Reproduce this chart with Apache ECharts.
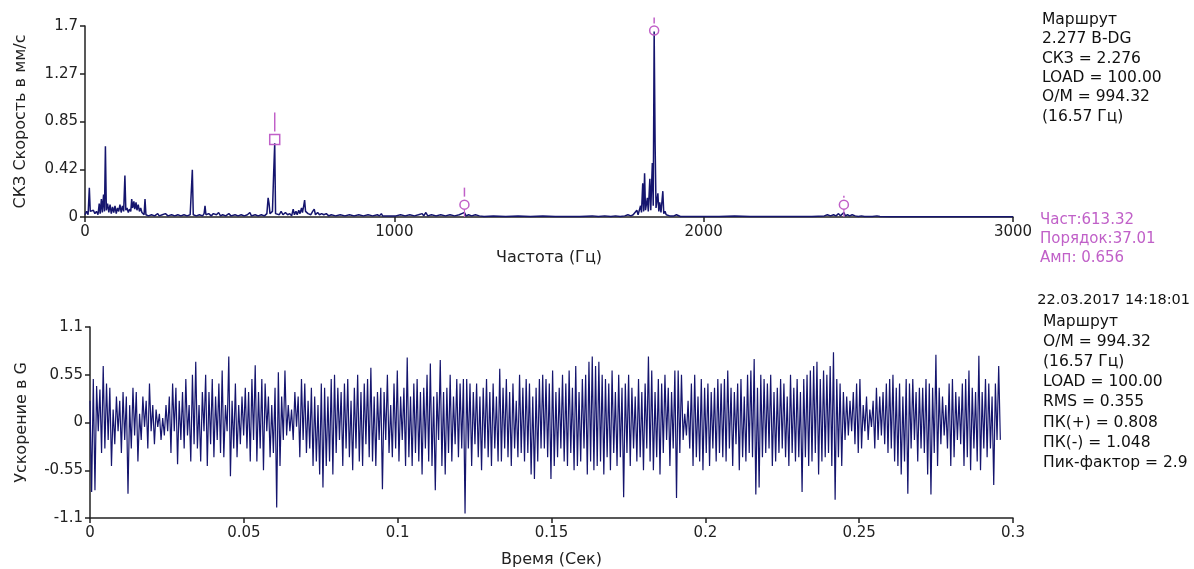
<!DOCTYPE html>
<html>
<head>
<meta charset="utf-8">
<script src="https://cdn.jsdelivr.net/npm/echarts@6/dist/echarts.min.js"></script>
<style>
html,body{margin:0;padding:0;background:#fff;}
#chart{width:1194px;height:569px;}
</style>
</head>
<body>
<div id="chart"></div>
<script>
// ---------- DATA ----------
// Spectrum (frequency Hz, RMS velocity mm/s)
const spectrumLow = [
[0,0.02],[5,0.05],[10,0.02],[14,0.26],[17,0.05],[22,0.04],[27,0.06],[32,0.03],[37,0.05],[42,0.02],[46,0.12],[49,0.03],[53,0.16],[56,0.04],[60,0.2],[63,0.05],[66,0.63],[69,0.06],[73,0.12],[77,0.04],[81,0.11],[85,0.03],[89,0.09],[93,0.04],[97,0.1],[101,0.03],[105,0.08],[109,0.05],[113,0.11],[117,0.04],[121,0.1],[125,0.05],[129,0.37],[132,0.06],[136,0.08],[140,0.04],[144,0.07],[148,0.05],[151,0.16],[154,0.08],[158,0.14],[161,0.07],[165,0.13],[168,0.06],[172,0.11],[176,0.05],[180,0.08],[184,0.04],[188,0.05],[191,0.02],[194,0.16],[197,0.02],[205,0.01],[215,0.02],[225,0.01],[235,0.03],[240,0.01],[250,0.02],[260,0.03],[268,0.01],[280,0.02],[290,0.01],[300,0.02],[310,0.01],[320,0.02],[330,0.01],[340,0.02],[344,0.03],[347,0.42],[350,0.02],[360,0.01],[370,0.02],[380,0.01],[385,0.03],[388,0.1],[391,0.02],[400,0.03],[408,0.01],[415,0.03],[425,0.02],[432,0.04],[438,0.01],[445,0.02],[455,0.01],[465,0.03],[472,0.01],[485,0.02],[495,0.01],[505,0.02],[515,0.01],[525,0.02],[533,0.04],[538,0.01],[550,0.02],[560,0.01],[570,0.02],[580,0.01],[588,0.03],[592,0.17],[595,0.12],[598,0.03],[606,0.05],[610,0.4],[613.32,0.656],[616,0.03],[622,0.04],[628,0.02],[634,0.05],[640,0.02],[648,0.04],[655,0.02],[662,0.03],[668,0.01],[673,0.07],[677,0.02],[682,0.05],[686,0.02],[691,0.06],[695,0.03],[700,0.08],[703,0.04],[707,0.1],[710,0.15],[713,0.05],[717,0.06],[721,0.03],[726,0.04],[730,0.02],[736,0.05],[741,0.07],[745,0.02],[752,0.04],[758,0.02],[765,0.03],[772,0.02],[780,0.03],[788,0.01],[796,0.02],[810,0.01],[825,0.02],[840,0.01],[855,0.02],[870,0.01],[885,0.02],[900,0.01],[915,0.02],[930,0.01],[945,0.02],[952,0.01],[958,0.03],[962,0.01],[975,0.01],[990,0.01]
];
const spectrumMid = [
[1005,0.01],[1020,0.02],[1035,0.01],[1050,0.02],[1065,0.01],[1078,0.02],[1090,0.03],[1095,0.01],[1102,0.04],[1108,0.01],[1120,0.02],[1135,0.01],[1150,0.02],[1165,0.01],[1180,0.02],[1195,0.01],[1210,0.02],[1218,0.03],[1226.64,0.04],[1232,0.01],[1240,0.02],[1250,0.01],[1262,0.02],[1275,0.01],[1290,0.005],[1320,0.01],[1360,0.005],[1400,0.01],[1440,0.005],[1480,0.01],[1520,0.005],[1560,0.005],[1600,0.005],[1640,0.01],[1660,0.005],[1680,0.01],[1700,0.005],[1715,0.01],[1730,0.005],[1745,0.01],[1755,0.02],[1765,0.01],[1772,0.02],[1778,0.03],[1784,0.06],[1788,0.02],[1792,0.03],[1796,0.1],[1799,0.04],[1803,0.3],[1806,0.05],[1809,0.39],[1812,0.06],[1818,0.17],[1821,0.05],[1826,0.34],[1829,0.06],[1834,0.48],[1837,0.1],[1839.96,1.65],[1843,0.66],[1846,0.08],[1852,0.21],[1855,0.05],[1858,0.13],[1862,0.04],[1868,0.23],[1871,0.03],[1875,0.05],[1879,0.02],[1884,0.03],[1890,0.01],[1896,0.02],[1904,0.01],[1912,0.02],[1925,0.005],[1950,0.005],[1980,0.005]
];
const spectrumHigh = [
[2000,0.005],[2050,0.005],[2100,0.01],[2150,0.005],[2200,0.005],[2250,0.005],[2300,0.005],[2350,0.005],[2390,0.01],[2400,0.02],[2410,0.01],[2420,0.02],[2428,0.01],[2436,0.03],[2442,0.01],[2448,0.02],[2453.28,0.04],[2458,0.01],[2465,0.02],[2472,0.01],[2480,0.02],[2490,0.01],[2500,0.005],[2510,0.01],[2520,0.005],[2545,0.005],[2560,0.01],[2570,0.005],[2600,0.003],[2700,0.003],[2800,0.003],[2900,0.003],[3000,0.003]
];
// Harmonic cursor markers (frequency, marker level)
const harmonicFreqs = [613.32, 1226.64, 1839.96, 2453.28];
const markerLevels = [0.69, 0.11, 1.66, 0.11];

// Time waveform: acceleration G, one value per sample
const sampleStep = 0.000537; // seconds between samples
const accel = [
0.25,-0.8,0.5,-0.78,0.42,-0.1,0.38,-0.35,0.65,-0.3,0.45,-0.2,0.4,-0.5,0.15,-0.25,0.3,-0.1,0.25,-0.35,0.35,-0.2,0.3,-0.82,
0.2,-0.3,0.4,-0.15,0.35,-0.45,0.1,-0.2,0.3,-0.05,0.25,-0.3,0.45,-0.1,0.2,-0.25,0.15,-0.05,0.1,-0.2,0.05,-0.15,0.2,-0.1,
0.3,-0.35,0.45,-0.1,0.4,-0.48,0.25,-0.2,0.35,-0.3,0.5,-0.15,0.2,-0.45,0.55,-0.25,0.7,-0.3,0.2,-0.45,0.35,-0.1,0.55,-0.5,
0.35,-0.25,0.5,-0.4,0.3,-0.2,0.45,-0.35,0.6,-0.4,0.2,-0.1,0.76,-0.62,0.25,-0.3,0.45,-0.4,0.2,-0.25,0.3,-0.15,0.4,-0.3,
0.35,-0.45,0.5,-0.2,0.66,-0.45,0.35,-0.3,0.5,-0.55,0.45,-0.1,0.3,-0.4,0.2,-0.35,0.4,-0.98,0.58,-0.5,0.3,-0.2,0.6,-0.15,
0.2,-0.1,0.15,-0.2,0.35,-0.05,0.3,-0.4,0.5,-0.2,0.45,-0.35,0.25,-0.3,0.4,-0.5,0.3,-0.45,0.2,-0.6,0.45,-0.75,0.4,-0.5,
0.3,-0.45,0.5,-0.6,0.55,-0.35,0.4,-0.2,0.35,-0.5,0.45,-0.3,0.5,-0.4,0.25,-0.55,0.4,-0.3,0.55,-0.45,0.35,-0.5,0.45,-0.25,
0.5,-0.4,0.63,-0.45,0.3,-0.5,0.35,-0.2,0.4,-0.77,0.35,-0.2,0.55,-0.35,0.2,-0.4,0.45,-0.3,0.6,-0.45,0.3,-0.2,0.4,-0.5,
0.75,-0.4,0.3,-0.5,0.45,-0.35,0.5,-0.45,0.35,-0.6,0.4,-0.3,0.55,-0.45,0.68,-0.5,0.3,-0.78,0.35,-0.2,0.72,-0.5,0.35,-0.6,
0.4,-0.35,0.55,-0.45,0.3,-0.25,0.5,-0.4,0.45,-0.3,0.5,-1.048,0.5,-0.3,0.45,-0.5,0.35,-0.25,0.45,-0.4,0.3,-0.55,0.4,-0.3,
0.5,-0.4,0.35,-0.5,0.45,-0.3,0.3,-0.45,0.62,-0.45,0.4,-0.3,0.5,-0.4,0.35,-0.5,0.45,-0.3,0.25,-0.4,0.55,-0.35,0.4,-0.45,
0.5,-0.35,0.45,-0.6,0.3,-0.65,0.4,-0.45,0.5,-0.3,0.55,-0.3,0.5,-0.4,0.45,-0.65,0.6,-0.5,0.35,-0.4,0.4,-0.3,0.55,-0.45,
0.45,-0.5,0.6,-0.35,0.4,-0.55,0.65,-0.5,0.35,-0.45,0.5,-0.3,0.55,-0.6,0.7,-0.45,0.76,-0.55,0.65,-0.5,0.7,-0.45,0.55,-0.6,
0.5,-0.4,0.45,-0.55,0.6,-0.35,0.35,-0.5,0.55,-0.4,0.4,-0.86,0.45,-0.35,0.55,-0.5,0.4,-0.3,0.3,-0.45,0.5,-0.4,0.35,-0.55,
0.45,-0.3,0.76,-0.45,0.6,-0.55,0.35,-0.4,0.5,-0.6,0.45,-0.35,0.55,-0.2,0.4,-0.5,0.35,-0.3,0.6,-0.87,0.6,-0.35,0.55,-0.2,
0.1,-0.15,0.25,-0.3,0.45,-0.5,0.55,-0.4,0.3,-0.45,0.5,-0.55,0.4,-0.35,0.45,-0.5,0.35,-0.3,0.4,-0.45,0.5,-0.35,0.45,-0.4,
0.5,-0.45,0.6,-0.3,0.4,-0.5,0.35,-0.25,0.45,-0.55,0.5,-0.4,0.3,-0.45,0.55,-0.35,0.6,-0.4,0.73,-0.83,0.4,-0.75,0.55,-0.4,
0.5,-0.35,0.45,-0.3,0.55,-0.5,0.35,-0.45,0.4,-0.35,0.5,-0.3,0.45,-0.4,0.3,-0.5,0.55,-0.35,0.4,-0.45,0.5,-0.4,0.35,-0.8,
0.5,-0.4,0.55,-0.5,0.6,-0.45,0.65,-0.35,0.7,-0.6,0.5,-0.45,0.6,-0.4,0.55,-0.35,0.65,-0.5,0.808,-0.89,0.5,-0.4,0.45,-0.5,
0.35,-0.2,0.3,-0.15,0.25,-0.1,0.35,-0.25,0.45,-0.35,0.5,-0.3,0.2,-0.1,0.3,-0.2,0.15,-0.05,0.25,-0.3,0.4,-0.2,0.3,-0.15,
0.35,-0.25,0.45,-0.35,0.5,-0.3,0.55,-0.45,0.4,-0.5,0.45,-0.6,0.3,-0.45,0.5,-0.82,0.45,-0.3,0.5,-0.2,0.35,-0.45,0.4,-0.3,
0.4,-0.35,0.5,-0.6,0.45,-0.83,0.4,-0.35,0.78,-0.5,0.4,-0.25,0.3,-0.15,0.2,-0.3,0.45,-0.5,0.5,-0.4,0.35,-0.2,0.3,-0.25,
0.45,-0.5,0.5,-0.4,0.6,-0.55,0.4,-0.3,0.35,-0.45,0.77,-0.55,0.35,-0.3,0.5,-0.4,0.45,-0.3,0.3,-0.72,0.45,-0.2,0.65,-0.2
];

// Tick labels
const specYLabels = ['0','0.42','0.85','1.27','1.7'];
const specXLabels = ['0','1000','2000','3000'];
const accelYLabels = ['-1.1','-0.55','0','0.55','1.1'];
const timeXLabels = ['0','0.05','0.1','0.15','0.2','0.25','0.3'];

// Info texts
const infoTop = ['Маршрут','2.277 B-DG','СКЗ = 2.276','LOAD = 100.00','O/M = 994.32','(16.57 Гц)'];
const cursorInfo = ['Част:613.32','Порядок:37.01','Амп: 0.656'];
const dateStamp = '22.03.2017 14:18:01';
const infoBottom = ['Маршрут','O/M = 994.32','(16.57 Гц)','LOAD = 100.00','RMS = 0.355','ПК(+) = 0.808','ПК(-) = 1.048','Пик-фактор = 2.9'];

// ---------- CHART ----------
const FONT = 'DejaVu Sans';
const AXIS_COLOR = '#222';
const LINE_COLOR = '#15156e';
const MARK_COLOR = '#c060c8';

const spectrum = spectrumLow.concat(spectrumMid, spectrumHigh);
const waveform = accel.map((v, i) => [i * sampleStep, v]);

function axisCommon() {
  return {
    axisLine: {show: true, onZero: false, lineStyle: {color: AXIS_COLOR, width: 1.5}},
    axisTick: {show: true, length: 5, lineStyle: {color: AXIS_COLOR, width: 1.5}},
    splitLine: {show: false},
    axisLabel: {color: '#222', fontFamily: FONT, fontSize: 15},
    nameTextStyle: {color: '#222', fontFamily: FONT, fontSize: 16}
  };
}

const graphics = [];
infoTop.forEach((t, i) => graphics.push({type: 'text', x: 1042, y: 20 + i * 19.3,
  style: {text: t, fill: '#111', fontFamily: FONT, fontSize: 15.5, verticalAlign: 'middle'}}));
cursorInfo.forEach((t, i) => graphics.push({type: 'text', x: 1040, y: 220 + i * 19,
  style: {text: t, fill: MARK_COLOR, fontFamily: FONT, fontSize: 15, verticalAlign: 'middle'}}));
graphics.push({type: 'text', x: 1190, y: 300,
  style: {text: dateStamp, fill: '#111', fontFamily: FONT, fontSize: 14.5, verticalAlign: 'middle', align: 'right'}});
infoBottom.forEach((t, i) => graphics.push({type: 'text', x: 1043, y: 322 + i * 20.1,
  style: {text: t, fill: '#111', fontFamily: FONT, fontSize: 15.5, verticalAlign: 'middle'}}));

const option = {
  animation: false,
  backgroundColor: '#fff',
  grid: [
    {left: 85, top: 26, width: 928, height: 191},
    {left: 90, top: 327, width: 923, height: 191}
  ],
  xAxis: [
    Object.assign(axisCommon(), {
      type: 'value', gridIndex: 0, min: 0, max: 3000, interval: 1000,
      name: 'Частота (Гц)', nameLocation: 'middle', nameGap: 33,
      axisLabel: Object.assign(axisCommon().axisLabel, {margin: 8, formatter: (v, i) => specXLabels[i]})
    }),
    Object.assign(axisCommon(), {
      type: 'value', gridIndex: 1, min: 0, max: 0.3, interval: 0.05,
      name: 'Время (Сек)', nameLocation: 'middle', nameGap: 34,
      axisLabel: Object.assign(axisCommon().axisLabel, {margin: 8, formatter: (v, i) => timeXLabels[i]})
    })
  ],
  yAxis: [
    Object.assign(axisCommon(), {
      type: 'value', gridIndex: 0, min: 0, max: 1.7, interval: 0.425,
      name: 'СКЗ Скорость в мм/с', nameLocation: 'middle', nameGap: 56,
      axisLabel: Object.assign(axisCommon().axisLabel, {margin: 7, formatter: (v, i) => specYLabels[i]})
    }),
    Object.assign(axisCommon(), {
      type: 'value', gridIndex: 1, min: -1.1, max: 1.1, interval: 0.55,
      name: 'Ускорение в G', nameLocation: 'middle', nameGap: 60,
      axisLabel: Object.assign(axisCommon().axisLabel, {margin: 7, formatter: (v, i) => accelYLabels[i]})
    })
  ],
  series: [
    {
      type: 'line', xAxisIndex: 0, yAxisIndex: 0, data: spectrum,
      showSymbol: false, symbol: 'none',
      lineStyle: {color: LINE_COLOR, width: 1.5}, z: 2
    },
    {
      type: 'custom', xAxisIndex: 0, yAxisIndex: 0, clip: false, z: 5,
      data: harmonicFreqs.map((f, i) => [f, markerLevels[i]]),
      renderItem: function (params, api) {
        const i = params.dataIndex;
        const p = api.coord([api.value(0), api.value(1)]);
        const b = api.coord([api.value(0), 0]);
        const dash = [[8, 19], [8, 9], [7, 6], [7, 2]][i];
        const r = 4.5;
        const children = [];
        if (i === 0) {
          children.push({type: 'rect', shape: {x: p[0] - 5, y: p[1] - 5, width: 10, height: 10},
            style: {fill: 'none', stroke: MARK_COLOR, lineWidth: 1.5}});
        } else {
          children.push({type: 'circle', shape: {cx: p[0], cy: p[1], r: r},
            style: {fill: 'none', stroke: MARK_COLOR, lineWidth: 1.5}});
        }
        children.push({type: 'line', shape: {x1: p[0], y1: p[1] - dash[0], x2: p[0], y2: p[1] - dash[0] - dash[1]},
          style: {stroke: MARK_COLOR, lineWidth: 1.5}});
        if (i === 1 || i === 3) {
          children.push({type: 'line', shape: {x1: p[0], y1: p[1] + r, x2: b[0], y2: b[1]},
            style: {stroke: MARK_COLOR, lineWidth: 1.2}});
        }
        return {type: 'group', children: children};
      }
    },
    {
      type: 'line', xAxisIndex: 1, yAxisIndex: 1, data: waveform,
      showSymbol: false, symbol: 'none', sampling: null,
      lineStyle: {color: LINE_COLOR, width: 1.2}
    }
  ],
  graphic: graphics
};

const chart = echarts.init(document.getElementById('chart'), null, {renderer: 'canvas'});
chart.setOption(option);
</script>
</body>
</html>
